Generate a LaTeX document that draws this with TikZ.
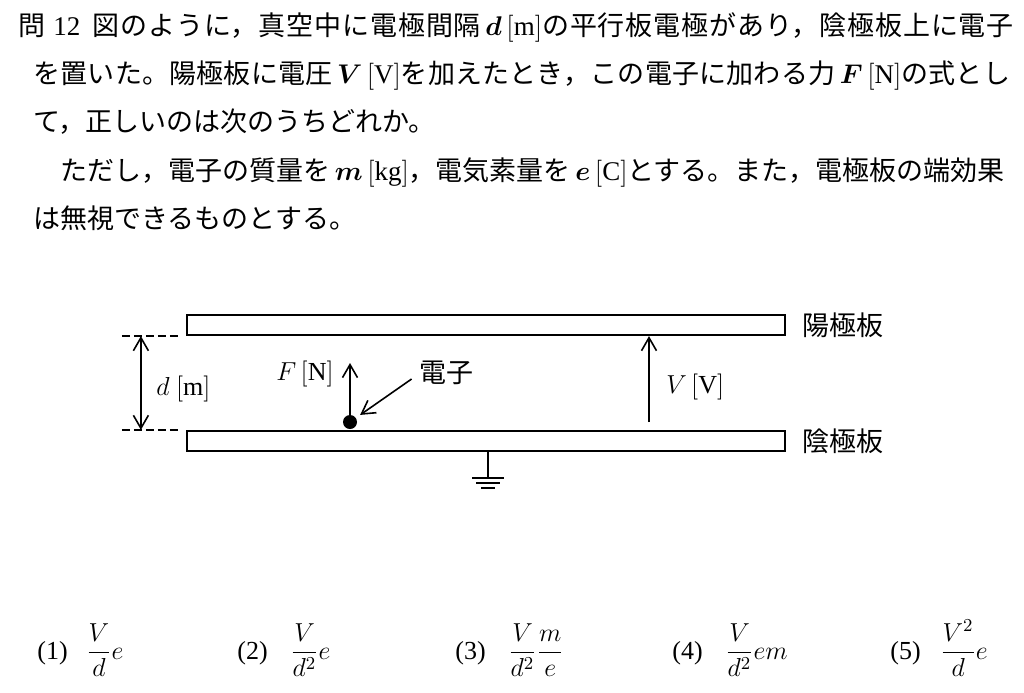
\RequirePackage{fix-cm}
\documentclass[tikz,border=0pt]{standalone}
\usepackage{amsmath}
\usepackage{amssymb}
\usepackage{bm}
\usepackage{fontspec}
\setmainfont{Liberation Serif}
\newfontfamily\jpfont{Noto Sans CJK JP}
\usetikzlibrary{arrows.meta,positioning}

\begin{document}
\begin{tikzpicture}[x=0.5pt,y=-0.5pt,
        body/.style={anchor=base west, inner sep=0pt, font=\jpfont\fontsize{13.5pt}{16pt}\selectfont},
        jplabel/.style={inner sep=0pt, font=\jpfont\fontsize{13.5pt}{16pt}\selectfont},
        qty/.style={inner sep=0pt, font=\fontsize{13pt}{16pt}\selectfont},
        opt/.style={anchor=base west, inner sep=0pt, font=\fontsize{13pt}{16pt}\selectfont},
        plate/.style={draw, line width=1.1pt, minimum width=299pt, minimum height=10pt, inner sep=0pt},
        electron/.style={circle, fill, inner sep=0pt, minimum size=7pt},
        vec/.style={line width=0.8pt, -{Straight Barb[length=6.5pt,width=7.5pt]}},
        dim/.style={line width=0.8pt, {Straight Barb[length=6.5pt,width=7.5pt]}-{Straight Barb[length=6.5pt,width=7.5pt]}},
        guide/.style={line width=0.8pt, dash pattern=on 4pt off 2pt},
        wire/.style={line width=1pt}]
    \path[fill=white] (0,0) rectangle (1024,692);

    % question text
    \node[body] (line1) at (18,35) {\addfontfeatures{LetterSpace=3.4}問\hspace{4pt}{\rmfamily 12}\hspace{6pt}図のように，真空中に電極間隔\,$\bm{d}\,[\mathrm{m}]$の平行板電極があり，陰極板上に電子};
    \node[body] (line2) at (33,83) {\addfontfeatures{LetterSpace=0.8}を置いた。陽極板に電圧\,$\bm{V}\,[\mathrm{V}]$を加えたとき，この電子に加わる力\,$\bm{F}\,[\mathrm{N}]$の式とし};
    \node[body] (line3) at (33,131) {て，正しいのは次のうちどれか。};
    \node[body] (line4) at (60,180) {ただし，電子の質量を\,$\bm{m}\,[\mathrm{kg}]$，電気素量を\,$\bm{e}\,[\mathrm{C}]$とする。また，電極板の端効果};
    \node[body] (line5) at (33,228) {は無視できるものとする。};

    % plates
    \node[plate] (anode) at (486,325) {};
    \node[plate] (cathode) at (486,441) {};
    \node[jplabel, right=8pt of anode] (anodelbl) {陽極板};
    \node[jplabel, right=8pt of cathode] (cathodelbl) {陰極板};

    % gap d
    \draw[guide] ([xshift=-32pt]anode.south west) -- ([xshift=-4pt]anode.south west);
    \draw[guide] ([xshift=-32pt]cathode.north west) -- ([xshift=-4pt]cathode.north west);
    \draw[dim] ([xshift=-22.5pt]anode.south west) -- ([xshift=-22.5pt]cathode.north west);
    \node[qty, anchor=west] (dlbl) at (156,389) {$d\ [\mathrm{m}]$};

    % electron and force
    \node[electron] (elec) at (350,422) {};
    \coordinate (ftip) at (350,363);
    \draw[vec] (elec) -- (ftip);
    \node[qty, anchor=east] (flbl) at (334,374) {$F\,[\mathrm{N}]$};
    \node[jplabel] (eleclbl) at (446,373) {電子};
    \draw[vec, shorten >=2.5pt] ([xshift=-3.5pt,yshift=-3pt]eleclbl.west) -- (elec);

    % voltage
    \coordinate (vfoot) at (649,422);
    \draw[vec] (vfoot) -- (vfoot |- anode.south);
    \node[qty, anchor=west] (vlbl) at (666,387) {$V\,[\mathrm{V}]$};

    % ground
    \coordinate (gnd) at (488,478);
    \draw[wire] (cathode.south -| gnd) -- (gnd);
    \draw[wire] ([xshift=-8pt]gnd) -- ([xshift=8pt]gnd);
    \draw[wire] ([xshift=-6pt,yshift=-2.5pt]gnd) -- ([xshift=6pt,yshift=-2.5pt]gnd);
    \draw[wire] ([xshift=-3.5pt,yshift=-5pt]gnd) -- ([xshift=3.5pt,yshift=-5pt]gnd);

    % choices
    \node[opt] (opt1) at (37,659) {(1)\hspace{9.3pt}$\dfrac{V}{d}e$};
    \node[opt] (opt2) at (237,659) {(2)\hspace{11.3pt}$\dfrac{V}{d^2}e$};
    \node[opt] (opt3) at (455,659) {(3)\hspace{11.3pt}$\dfrac{V}{d^2}\dfrac{m}{e}$};
    \node[opt] (opt4) at (672,659) {(4)\hspace{11.3pt}$\dfrac{V}{d^2}em$};
    \node[opt] (opt5) at (890,659) {(5)\hspace{9.8pt}$\dfrac{V^2}{d}e$};
\end{tikzpicture}
\end{document}
